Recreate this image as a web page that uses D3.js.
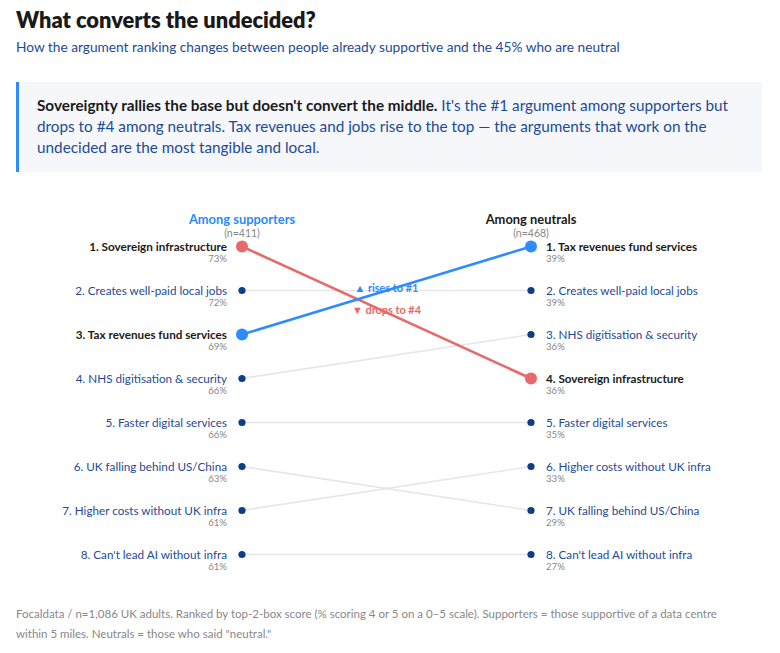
<!DOCTYPE html>
<html><head><meta charset="utf-8">
<script src="https://cdn.jsdelivr.net/npm/d3@7"></script>
<style>
body{margin:0;background:#fff;font-family:Lato,"Noto Sans",sans-serif;}
svg{display:block}
</style></head>
<body>
<svg id="chart" width="780" height="653"></svg>
<script>
const title = "What converts the undecided?";
const subtitle = "How the argument ranking changes between people already supportive and the 45% who are neutral";
const calloutBold = "Sovereignty rallies the base but doesn't convert the middle.";
const calloutLines = [
  " It's the #1 argument among supporters but",
  "drops to #4 among neutrals. Tax revenues and jobs rise to the top — the arguments that work on the",
  "undecided are the most tangible and local."
];
const footerLines = [
  "Focaldata / n=1,086 UK adults. Ranked by top-2-box score (% scoring 4 or 5 on a 0–5 scale). Supporters = those supportive of a data centre",
  "within 5 miles. Neutrals = those who said \"neutral.\""
];
const groups = ["Among supporters", "Among neutrals"];
const groupN = ["(n=411)", "(n=468)"];
// arguments in supporter rank order
const supporterArgs = ["Sovereign infrastructure","Creates well-paid local jobs","Tax revenues fund services","NHS digitisation & security","Faster digital services","UK falling behind US/China","Higher costs without UK infra","Can't lead AI without infra"];
const supporterPct = [73,72,69,66,66,63,61,61];
const neutralArgs = ["Tax revenues fund services","Creates well-paid local jobs","NHS digitisation & security","Sovereign infrastructure","Faster digital services","Higher costs without UK infra","UK falling behind US/China","Can't lead AI without infra"];
const neutralPct = [39,39,36,36,35,33,29,27];
const highlights = {"Sovereign infrastructure":"#e8696b","Tax revenues fund services":"#2b8bff"};
const annotations = {"Tax revenues fund services":"▲ rises to #1","Sovereign infrastructure":"▼ drops to #4"};

const svg = d3.select("#chart");
const DARK="#1a1a1a", BLUETXT="#1e4a94", NAVY="#0d3d87", GREY="#888";

// header
svg.append("text").attr("x",16).attr("y",28).attr("font-size",21.8).attr("font-weight",800).attr("fill",DARK).text(title);
svg.append("text").attr("x",16).attr("y",52).attr("font-size",13.7).attr("fill",BLUETXT).text(subtitle);

// callout
svg.append("rect").attr("x",16).attr("y",82).attr("width",746).attr("height",90).attr("fill","#f5f7fa");
svg.append("rect").attr("x",16).attr("y",82).attr("width",3).attr("height",90).attr("fill","#2b8bff");
const ct = svg.append("text").attr("font-size",15.3).attr("fill",BLUETXT);
const l1 = ct.append("tspan").attr("x",37).attr("y",111);
l1.append("tspan").attr("font-weight",700).attr("fill",DARK).text(calloutBold);
l1.append("tspan").text(calloutLines[0]);
calloutLines.slice(1).forEach((t,i)=>ct.append("tspan").attr("x",37).attr("y",132+i*21).text(t));

// slope chart
const x = d3.scalePoint().domain(groups).range([242,531]);
const y = d3.scaleLinear().domain([1,8]).range([246.5,554.5]);
const rankS = new Map(supporterArgs.map((a,i)=>[a,i+1]));
const rankN = new Map(neutralArgs.map((a,i)=>[a,i+1]));

// column headers
groups.forEach((g,i)=>{
  svg.append("text").attr("x",x(g)).attr("y",224).attr("text-anchor","middle").attr("font-size",12.9).attr("font-weight",700)
    .attr("fill", i===0?"#2b8bff":DARK).text(g);
  svg.append("text").attr("x",x(g)).attr("y",236.5).attr("text-anchor","middle").attr("font-size",10.5).attr("fill",GREY).text(groupN[i]);
});

// grey lines first
const others = supporterArgs.filter(a=>!highlights[a]);
const hl = supporterArgs.filter(a=>highlights[a]);
svg.append("g").selectAll("line").data(others).join("line")
  .attr("x1",x(groups[0])).attr("x2",x(groups[1]))
  .attr("y1",d=>y(rankS.get(d))).attr("y2",d=>y(rankN.get(d)))
  .attr("stroke","#e6e6e6").attr("stroke-width",1.6);

// annotations (under highlighted lines)
hl.forEach(a=>{
  const mx=(x(groups[0])+x(groups[1]))/2, my=(y(rankS.get(a))+y(rankN.get(a)))/2;
  svg.append("text").attr("x",mx).attr("y",my+1).attr("text-anchor","middle").attr("font-size",10.9).attr("font-weight",700)
    .attr("fill",highlights[a]).text(annotations[a]);
});

svg.append("g").selectAll("line").data(hl).join("line")
  .attr("x1",x(groups[0])).attr("x2",x(groups[1]))
  .attr("y1",d=>y(rankS.get(d))).attr("y2",d=>y(rankN.get(d)))
  .attr("stroke",d=>highlights[d]).attr("stroke-width",2.6);

// dots & labels
function side(args,pcts,gi){
  const cx=x(groups[gi]);
  const left = gi===0;
  args.forEach((a,i)=>{
    const cy=y(i+1), h=highlights[a];
    svg.append("circle").attr("cx",cx).attr("cy",cy).attr("r",h?6:3.6).attr("fill",h||NAVY);
    const tx = left?cx-15:cx+15, anchor = left?"end":"start";
    svg.append("text").attr("x",tx).attr("y",cy+4).attr("text-anchor",anchor).attr("font-size",11.7)
      .attr("font-weight",h?700:400).attr("fill",h?DARK:BLUETXT).text(`${i+1}. ${a}`);
    svg.append("text").attr("x",tx).attr("y",cy+15.5).attr("text-anchor",anchor).attr("font-size",9.6)
      .attr("fill",GREY).text(`${pcts[i]}%`);
  });
}
side(supporterArgs,supporterPct,0);
side(neutralArgs,neutralPct,1);

// footer
footerLines.forEach((t,i)=>svg.append("text").attr("x",16).attr("y",618+i*20).attr("font-size",11.5).attr("fill",GREY).text(t));
</script>
</body></html>
